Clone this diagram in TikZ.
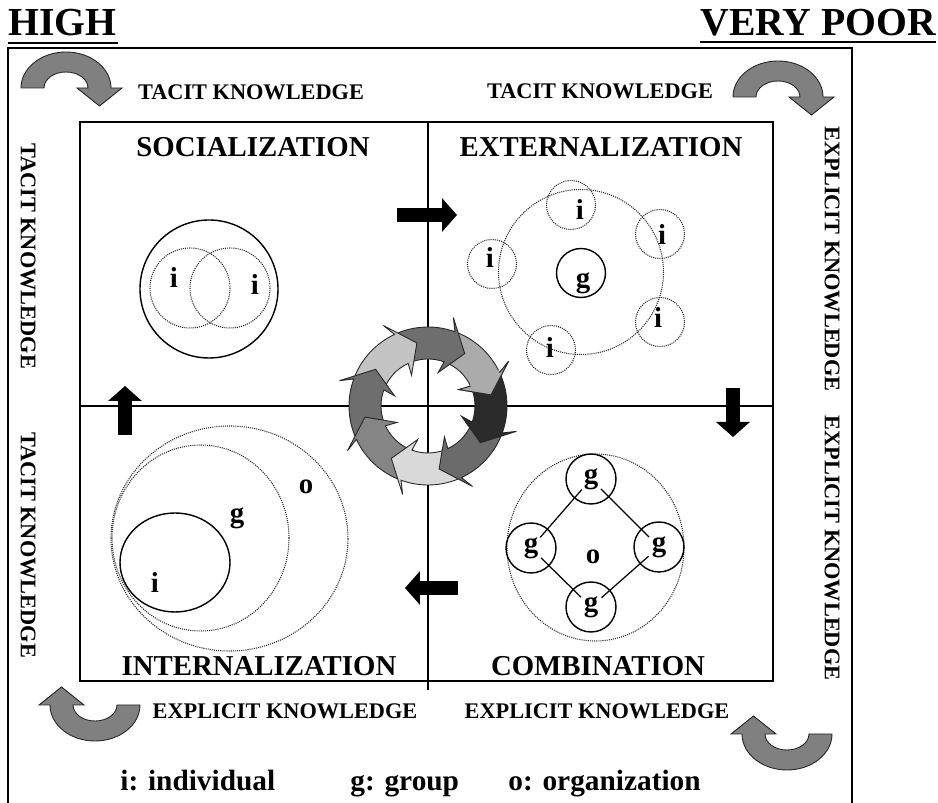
\documentclass[tikz,border=0pt]{standalone}
\usepackage{fontspec}
\setmainfont{Liberation Serif}
\usetikzlibrary{arrows.meta}

\begin{document}
\begin{tikzpicture}[x=0.02cm,y=-0.02cm,
    every node/.style={font=\bfseries},
    bigcap/.style={font=\fontsize{22.6}{26}\selectfont\bfseries, inner sep=0pt, anchor=base west},
    quadtitle/.style={font=\fontsize{16.4}{19}\selectfont\bfseries, inner sep=0pt},
    sidelab/.style={font=\fontsize{12.7}{15}\selectfont\bfseries, inner sep=0pt},
    circlab/.style={font=\fontsize{16.4}{19}\selectfont\bfseries, inner sep=0pt},
    legtext/.style={font=\fontsize{16.7}{19}\selectfont\bfseries, inner sep=0pt, anchor=base west},
    dotcirc/.style={draw=black!85, line width=0.6pt, dash pattern=on 0.6pt off 0.6pt},
    solidcirc/.style={draw=black, line width=0.8pt},
    gnode/.style={circlab, circle, draw, line width=0.8pt, minimum size=1cm},
    gline/.style={line width=0.7pt, shorten >=0.28cm, shorten <=0.28cm},
    blkarrow/.style={line width=8.5pt, -{Triangle[width=0.66cm,length=0.3cm]}},
    cyc/.style={draw=black!85, line width=0.5pt},
    bendarrow/.pic={
        \draw[fill=black!50, draw=black!85, line width=0.5pt]
            (-45,0) arc[start angle=180, end angle=360, x radius=45, y radius=36]
            -- (56,0) -- (33.5,18) -- (11,0) -- (22,0)
            arc[start angle=0, end angle=-180, x radius=22, y radius=16] -- cycle;
    }]
    \useasboundingbox (0,0) rectangle (938,803);

    % headings
    \node[bigcap] (high) at (8,36) {HIGH};
    \draw[line width=1.6pt] (8,43) -- (118,43);
    \node[bigcap] (poor) at (700,36) {VERY POOR};
    \draw[line width=1.6pt] (700,42) -- (936,42);

    % frames and axes
    \draw[line width=1.1pt] (8,803) -- (8,48) -- (852,48) -- (852,803);
    \draw[line width=0.7pt] (80,122) rectangle (773,681);
    \draw[line width=0.7pt] (428,122) -- (428,690);
    \draw[line width=0.7pt] (80,406) -- (773,406);

    % knowledge labels round the frame
    \node[sidelab] (tk1) at (251,92) {TACIT KNOWLEDGE};
    \node[sidelab] (tk2) at (600,91) {TACIT KNOWLEDGE};
    \node[sidelab] (ek1) at (285,711) {EXPLICIT KNOWLEDGE};
    \node[sidelab] (ek2) at (597,711) {EXPLICIT KNOWLEDGE};
    \node[sidelab, rotate=-90] (tk3) at (28,256) {TACIT KNOWLEDGE};
    \node[sidelab, rotate=-90] (tk4) at (28,545) {TACIT KNOWLEDGE};
    \node[sidelab, rotate=-90] (ek3) at (832,259) {EXPLICIT KNOWLEDGE};
    \node[sidelab, rotate=-90] (ek4) at (832,548) {EXPLICIT KNOWLEDGE};

    % corner arrows
    \pic at (66,88) {bendarrow};
    \pic at (778,97) {bendarrow};
    \pic[rotate=180] at (95,705) {bendarrow};
    \pic[rotate=180] at (787,734) {bendarrow};

    % socialization
    \node[quadtitle] (soc) at (253,147) {SOCIALIZATION};
    \draw[solidcirc] (209,289) circle (69);
    \draw[dotcirc] (190,288) circle (40);
    \draw[dotcirc] (230,288) circle (40);
    \node[circlab] (si1) at (174,278) {i};
    \node[circlab] (si2) at (255,285) {i};

    % externalization
    \node[quadtitle] (ext) at (601,147) {EXTERNALIZATION};
    \draw[dotcirc] (581,272) circle (82.5);
    \draw[solidcirc] (581,273) circle (24.5);
    \node[circlab] (eg) at (583,283) {g};
    \foreach \cx/\cy/\lx/\ly [count=\n] in {571/205/580/210, 660/234/662/235,
        492/264/490/258, 660/322/658/318, 551/350/550/348} {
        \draw[dotcirc] (\cx,\cy) circle (24.5);
        \node[circlab] (ei\n) at (\lx,\ly) {i};
    }

    % internalization
    \node[quadtitle] (int) at (259,666) {INTERNALIZATION};
    \draw[dotcirc] (229.5,538.5) ellipse[x radius=118.5, y radius=112.5];
    \draw[dotcirc] (200.5,538) ellipse[x radius=88.5, y radius=93];
    \draw[solidcirc] (175,562.5) ellipse[x radius=55, y radius=49.5];
    \node[circlab] (io) at (306,487) {o};
    \node[circlab] (ig) at (237,518) {g};
    \node[circlab] (ii) at (155,583) {i};

    % combination
    \node[quadtitle] (com) at (598,666) {COMBINATION};
    \draw[dotcirc] (595.5,547.5) ellipse[x radius=88.5, y radius=93.5];
    \node[gnode] (gt) at (591,479) {g};
    \node[gnode] (gl) at (531,548) {g};
    \node[gnode] (gr) at (659,547) {g};
    \node[gnode] (gb) at (591,607) {g};
    \node[circlab] (co) at (593,557) {o};
    \draw[gline] (gl.center) -- (gt.center);
    \draw[gline] (gt.center) -- (gr.center);
    \draw[gline] (gr.center) -- (gb.center);
    \draw[gline] (gb.center) -- (gl.center);

    % black arrows between quadrants
    \coordinate (upA) at (125,435);
    \coordinate (upB) at (125,386);
    \coordinate (rtA) at (397,215);
    \coordinate (rtB) at (457,215);
    \coordinate (dnA) at (733,388);
    \coordinate (dnB) at (733,437);
    \coordinate (lfA) at (458,588);
    \coordinate (lfB) at (405,588);
    \draw[blkarrow] (upA) -- (upB);
    \draw[blkarrow] (rtA) -- (rtB);
    \draw[blkarrow] (dnA) -- (dnB);
    \draw[blkarrow] (lfA) -- (lfB);

    % spiral of arrows in the middle
    \begin{scope}[shift={(428,406)}]
        \foreach \b/\c in {335/black!33, 290/black!57, 245/black!23, 200/black!57,
            155/black!48, 110/black!15, 65/black!58, 20/black!83}
            \filldraw[cyc, fill=\c] (\b-45:79) arc[start angle=\b-45, end angle=\b, radius=79]
                -- (\b-4:92) -- (\b+15:64) -- (\b-3:35) -- (\b:47)
                arc[start angle=\b, end angle=\b-45, radius=47] -- cycle;
        % last head back on top
        \fill[black!33] (333:79) -- (335:79) -- (331:92) -- (350:64) -- (332:35)
            -- (335:47) -- (333:47) -- cycle;
        \draw[cyc] (335:79) -- (331:92) -- (350:64) -- (332:35) -- (335:47);
    \end{scope}

    % legend
    \node[legtext] (li) at (120,791) {i: individual};
    \node[legtext] (lg) at (350,791) {g: group};
    \node[legtext] (lo) at (508,791) {o: organization};
\end{tikzpicture}
\end{document}
